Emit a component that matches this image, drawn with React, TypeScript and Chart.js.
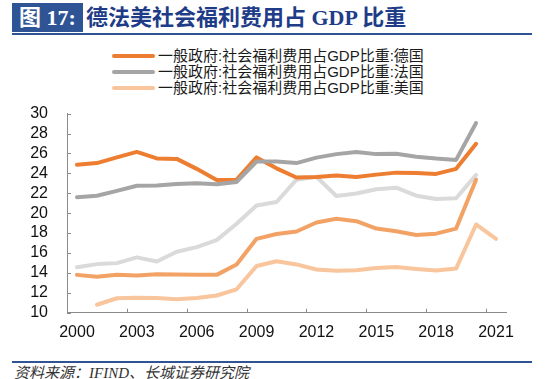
import React, { useEffect, useRef } from "react";
import { Chart, registerables } from "chart.js";

Chart.register(...registerables);

const years = ["2000","2001","2002","2003","2004","2005","2006","2007","2008","2009","2010","2011","2012","2013","2014","2015","2016","2017","2018","2019","2020","2021"];

const germany = [24.87, 25.03, 25.6, 26.15, 25.5, 25.45, 24.45, 23.33, 23.36, 25.6, 24.5, 23.58, 23.64, 23.78, 23.64, 23.87, 24.07, 24.04, 23.94, 24.45, 26.96, null];
const france = [21.6, 21.75, 22.24, 22.75, 22.78, 22.94, 23.0, 22.9, 23.14, 25.19, 25.19, 25.03, 25.58, 25.93, 26.15, 25.93, 25.97, 25.67, 25.48, 25.35, 29.05, null];
const usa = [null, 10.8, 11.45, 11.5, 11.47, 11.35, 11.47, 11.73, 12.35, 14.69, 15.17, 14.85, 14.34, 14.21, 14.27, 14.5, 14.6, 14.4, 14.24, 14.43, 18.86, 17.42];
const seriesGrayLight = [14.57, 14.88, 14.98, 15.56, 15.14, 16.13, 16.59, 17.29, 18.93, 20.76, 21.12, 23.36, 23.65, 21.72, 21.98, 22.4, 22.56, 21.75, 21.43, 21.5, 23.84, null];
const seriesOrangeMid = [13.8, 13.6, 13.82, 13.73, 13.87, 13.84, 13.82, 13.8, 14.85, 17.42, 17.9, 18.16, 19.06, 19.44, 19.19, 18.45, 18.19, 17.8, 17.94, 18.45, 23.36, null];

const legendLabels = [
  "一般政府:社会福利费用占GDP比重:德国",
  "一般政府:社会福利费用占GDP比重:法国",
  "一般政府:社会福利费用占GDP比重:美国",
];

const C_DE = "#ED7D31";
const C_FR = "#A5A5A5";
const C_US = "#F8C59D";
const C_LG = "#DADADA";
const C_MO = "#F3A266";
const AXIS = "#8a8a8a";
const legendColors = [C_DE, C_FR, C_US];

const yMin = 10;
const yMax = 30;
const yStep = 2;
const labelEvery = 3;

const innerTicks = {
  id: "innerTicks",
  afterDraw(chart: any) {
    const { ctx, chartArea, scales } = chart;
    const x = scales.x;
    const y = scales.y;
    ctx.save();
    ctx.strokeStyle = AXIS;
    ctx.lineWidth = 1;
    ctx.beginPath();
    y.ticks.forEach((t: any) => {
      const py = Math.round(y.getPixelForValue(t.value)) + 0.5;
      ctx.moveTo(chartArea.left, py);
      ctx.lineTo(chartArea.left + 4, py);
    });
    for (let i = labelEvery; i < years.length; i += labelEvery) {
      const px = Math.round((x.getPixelForValue(i - 1) + x.getPixelForValue(i)) / 2) + 0.5;
      ctx.moveTo(px, chartArea.bottom);
      ctx.lineTo(px, chartArea.bottom - 4);
    }
    ctx.stroke();
    ctx.restore();
  },
};

export default function App() {
  const ref = useRef<HTMLCanvasElement | null>(null);

  useEffect(() => {
    if (!ref.current) return;
    const mk = (label: string, data: (number | null)[], color: string) => ({
      label,
      data,
      borderColor: color,
      backgroundColor: color,
      borderWidth: 4,
      pointRadius: 0,
      tension: 0,
      borderCapStyle: "round",
      borderJoinStyle: "round",
      spanGaps: false,
    });
    const chart = new Chart(ref.current, {
      type: "line",
      data: {
        labels: years,
        datasets: [
          mk(legendLabels[1], france, C_FR),
          mk(legendLabels[0], germany, C_DE),
          mk("", seriesOrangeMid, C_MO),
          mk("", seriesGrayLight, C_LG),
          mk(legendLabels[2], usa, C_US),
        ] as any,
      },
      options: {
        responsive: false,
        animation: false,
        layout: { padding: { top: 20, left: 0, right: 44, bottom: 0 } },
        plugins: { legend: { display: false }, tooltip: { enabled: false } },
        scales: {
          x: {
            type: "category",
            offset: true,
            grid: { display: true, drawOnChartArea: false, drawTicks: false, offset: true, color: "transparent" },
            border: { display: true, color: AXIS, width: 1 },
            ticks: {
              autoSkip: false,
              maxRotation: 0,
              padding: 10,
              color: "#111",
              font: { family: "'Liberation Sans', Arial, sans-serif", size: 16 },
              callback: (_v: any, i: number) => (i % labelEvery === 0 ? years[i] : ""),
            },
            afterFit: (s: any) => { s.height = 32.3; },
          },
          y: {
            min: yMin,
            max: yMax,
            grid: { display: true, drawOnChartArea: false, drawTicks: false, color: "transparent" },
            border: { display: true, color: AXIS, width: 1 },
            ticks: {
              stepSize: yStep,
              autoSkip: false,
              padding: 19,
              color: "#111",
              font: { family: "'Liberation Sans', Arial, sans-serif", size: 16 },
            },
            afterFit: (s: any) => { s.width = 67; },
          },
        },
      },
      plugins: [innerTicks],
    } as any);
    return () => chart.destroy();
  }, []);

  const cjk = "'Liberation Sans', 'Noto Sans CJK SC', sans-serif";
  const titleFont = "'Liberation Serif', 'Noto Sans CJK SC', serif";

  return (
    <div style={{ position: "absolute", left: 0, top: 0, width: 550, height: 379, background: "#fff", overflow: "hidden" }}>
      <div style={{ position: "absolute", left: 12, top: 3, width: 71, height: 29, background: "#2E5496", color: "#fff", font: `bold 22px ${titleFont}`, lineHeight: "29px", textAlign: "center", whiteSpace: "nowrap" }}>
        图 17:
      </div>
      <div style={{ position: "absolute", left: 86, top: 3, height: 29, color: "#1F3C88", font: `bold 22px ${titleFont}`, lineHeight: "29px", whiteSpace: "nowrap" }}>
        德法美社会福利费用占 GDP 比重
      </div>
      <div style={{ position: "absolute", left: 12, top: 33, width: 520, height: 2, background: "#2E5496" }} />

      {legendLabels.map((t, i) => (
        <div key={i} style={{ position: "absolute", left: 112, top: 48 + i * 16, height: 16, display: "flex", alignItems: "center", whiteSpace: "nowrap" }}>
          <div style={{ width: 43, height: 4, background: legendColors[i], borderRadius: 2 }} />
          <span style={{ marginLeft: 3, font: `15px ${cjk}`, lineHeight: "16px", color: "#1a1a1a" }}>{t}</span>
        </div>
      ))}

      <canvas ref={ref} width={550} height={260} style={{ position: "absolute", left: 0, top: 85, width: 550, height: 260 }} />

      <div style={{ position: "absolute", left: 12, top: 361, width: 520, height: 2, background: "#2E5496" }} />
      <div style={{ position: "absolute", left: 14, top: 364, font: `italic 15px 'Liberation Serif', 'Noto Sans CJK SC', serif`, lineHeight: "18px", color: "#333", whiteSpace: "nowrap" }}>
        资料来源：IFIND、长城证券研究院
      </div>
    </div>
  );
}
